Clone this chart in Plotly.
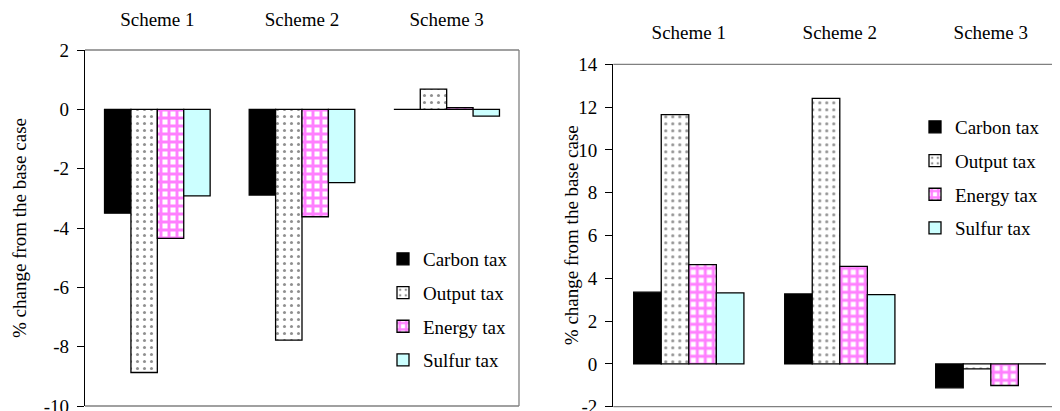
import plotly.graph_objects as go

schemes = ["Scheme 1", "Scheme 2", "Scheme 3"]
series_names = ["Carbon tax", "Output tax", "Energy tax", "Sulfur tax"]

# Left panel (% change)
left_carbon = [-3.50, -2.89, 0.00]
left_output = [-8.87, -7.78, 0.68]
left_energy = [-4.35, -3.62, 0.06]
left_sulfur = [-2.92, -2.47, -0.23]

# Right panel (% change)
right_carbon = [3.35, 3.27, -1.12]
right_output = [11.65, 12.41, -0.23]
right_energy = [4.64, 4.56, -1.01]
right_sulfur = [3.32, 3.24, 0.00]

left_ticks = [2, 0, -2, -4, -6, -8, -10]
right_ticks = [14, 12, 10, 8, 6, 4, 2, 0, -2]

FONT = '"Liberation Serif", "Times New Roman", Times, serif'
OFF = 8  # page body margin
W, H = 1060 - OFF, 411 - OFF

styles = [
    dict(color="black", pattern=dict(shape="")),
    dict(color="white", pattern=dict(shape=".", fgcolor="#202020", bgcolor="white", size=7, solidity=0.15)),
    dict(color="white", pattern=dict(shape="+", fgcolor="#FF00FF", bgcolor="white", size=8, solidity=0.6)),
    dict(color="#CCFFFF", pattern=dict(shape="")),
]

fig = go.Figure()
left_vals = [left_carbon, left_output, left_energy, left_sulfur]
right_vals = [right_carbon, right_output, right_energy, right_sulfur]

for name, vals, st in zip(series_names, left_vals, styles):
    fig.add_trace(go.Bar(
        x=schemes, y=vals, name=name, xaxis="x", yaxis="y",
        marker=dict(color=st["color"], pattern=st["pattern"], line=dict(color="black", width=1.3)),
        legend="legend", legendgroup="L" + name,
    ))
for name, vals, st in zip(series_names, right_vals, styles):
    fig.add_trace(go.Bar(
        x=schemes, y=vals, name=name, xaxis="x2", yaxis="y2",
        marker=dict(color=st["color"], pattern=st["pattern"], line=dict(color="black", width=1.3)),
        legend="legend2", legendgroup="R" + name,
    ))

def px(v):
    return v - OFF

# domains (from screen pixels)
Lx = [px(85) / W, px(519) / W]
Ly = [1 - px(406) / H, 1 - px(50) / H]
Rx = [px(613.3) / W, 1.0]
Ry = [1 - px(406.7) / H, 1 - px(64.3) / H]
Lrange = [-10, 2]
Rrange = [-2, 14]
Rxmax = -0.5 + (W - px(613.3)) / 151.0

def zero_pos(dom, rng):
    return dom[0] + (0 - rng[0]) / (rng[1] - rng[0]) * (dom[1] - dom[0])

tickfont = dict(family=FONT, size=19, color="black")

def cat_axis(dom, anchor, rng, standoff):
    return dict(domain=dom, anchor=anchor, side="top", type="category",
                categoryorder="array", categoryarray=schemes, range=rng,
                showline=False, showgrid=False, zeroline=False, ticks="",
                tickfont=tickfont, ticklabelstandoff=standoff, automargin=False,
                ticklabeloverflow="allow")

def zero_axis(dom, overl, pos, rng):
    return dict(domain=dom, overlaying=overl, anchor="free", position=pos, side="bottom",
                type="linear", range=rng, tickvals=[-0.5, 0.5, 1.5, 2.5],
                showticklabels=False, ticks="outside", ticklen=7, tickwidth=1.3,
                tickcolor="black", showline=True, linecolor="black", linewidth=1.3,
                showgrid=False, zeroline=False, automargin=False)

def val_axis(dom, anchor, rng, ticks):
    return dict(domain=dom, anchor=anchor, range=rng, tickvals=ticks,
                ticktext=[str(t) for t in ticks], ticks="outside", ticklen=7,
                tickwidth=1.3, tickcolor="black", showline=True, linecolor="black",
                linewidth=1.3, showgrid=False, zeroline=False, tickfont=tickfont,
                ticklabelstandoff=4, automargin=False, ticklabeloverflow="allow")

legend_common = dict(font=dict(family=FONT, size=19, color="black"),
                     bgcolor="rgba(0,0,0,0)", borderwidth=0, tracegroupgap=6,
                     xanchor="left", yanchor="top", traceorder="grouped")

grey = dict(color="#808080", width=1.3)
fig.update_layout(
    width=W, height=H,
    margin=dict(l=0, r=0, t=0, b=0, autoexpand=False),
    paper_bgcolor="white", plot_bgcolor="white",
    barmode="group", bargap=0.27, bargroupgap=0,
    font=dict(family=FONT, size=19, color="black"),
    xaxis=cat_axis(Lx, "y", [-0.5, 2.5], 19),
    xaxis2=cat_axis(Rx, "y2", [-0.5, Rxmax], 21),
    xaxis3=zero_axis(Lx, "x", zero_pos(Ly, Lrange), [-0.5, 2.5]),
    xaxis4=zero_axis(Rx, "x2", zero_pos(Ry, Rrange), [-0.5, Rxmax]),
    yaxis=val_axis(Ly, "x", Lrange, left_ticks),
    yaxis2=val_axis(Ry, "x2", Rrange, right_ticks),
    legend=dict(x=px(383) / W, y=1 - px(240) / H, **legend_common),
    legend2=dict(x=px(915) / W, y=1 - px(108) / H, **legend_common),
    showlegend=True,
    annotations=[
        dict(text="% change from the base case", textangle=-90, x=px(19) / W, y=(Ly[0] + Ly[1]) / 2,
             xref="paper", yref="paper", xanchor="center", yanchor="middle", showarrow=False,
             font=dict(family=FONT, size=19)),
        dict(text="% change from the base case", textangle=-90, x=px(571.7) / W, y=(Ry[0] + Ry[1]) / 2,
             xref="paper", yref="paper", xanchor="center", yanchor="middle", showarrow=False,
             font=dict(family=FONT, size=19)),
    ],
    shapes=[
        dict(type="line", xref="x domain", yref="y domain", x0=0, x1=1, y0=1, y1=1, line=grey),
        dict(type="line", xref="x domain", yref="y domain", x0=0, x1=1, y0=0, y1=0, line=grey),
        dict(type="line", xref="x domain", yref="y domain", x0=1, x1=1, y0=0, y1=1, line=grey),
        dict(type="line", xref="x2 domain", yref="y2 domain", x0=0, x1=1, y0=1, y1=1, line=grey),
        dict(type="line", xref="x2 domain", yref="y2 domain", x0=0, x1=1, y0=0, y1=0, line=grey),
    ],
)

fig.write_html("out.html")
